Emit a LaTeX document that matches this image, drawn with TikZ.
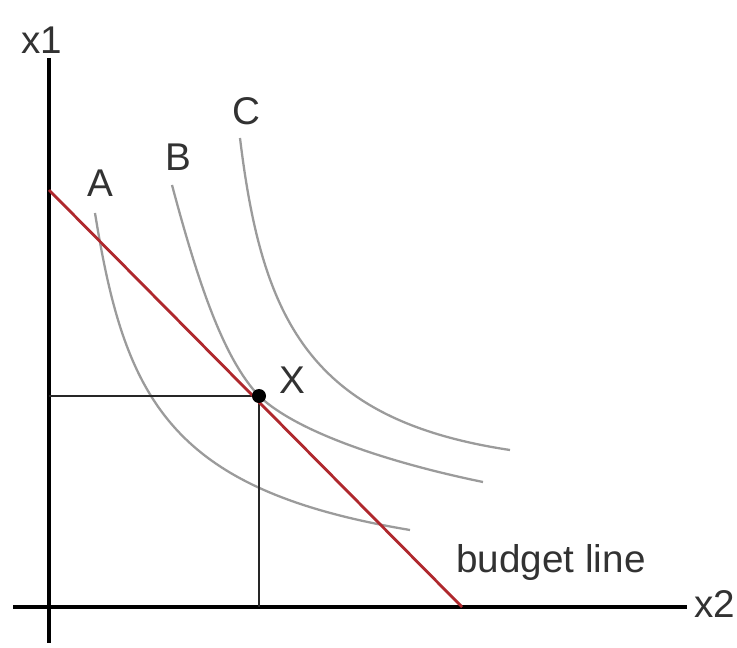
\documentclass[tikz,border=0pt]{standalone}
\usepackage{fontspec}
\setmainfont{Liberation Sans}
\definecolor{budgetred}{RGB}{175,40,45}
\definecolor{curvegray}{RGB}{155,155,155}
\definecolor{txtgray}{RGB}{50,50,50}
\begin{document}
\begin{tikzpicture}[x=0.02cm,y=-0.02cm,
  axis/.style={line width=1.8pt,black},
  guide/.style={line width=1.1pt,black!85},
  budget/.style={line width=1.6pt,budgetred},
  icurve/.style={line width=1.3pt,curvegray},
  lbl/.style={font=\fontsize{22}{26}\selectfont,text=txtgray,inner sep=0pt}]
\useasboundingbox (0,0) rectangle (737,648);
% axes
\coordinate (ytop) at (49,58);
\coordinate (ybot) at (49,643);
\coordinate (xleft) at (13,607);
\coordinate (xright) at (687,607);
\draw[axis] (ytop) -- (ybot);
\draw[axis] (xleft) -- (xright);
\node[lbl] (x1) at (42,40) {x1};
\node[lbl] (x2) at (715,604) {x2};
% guides to X
\coordinate (X) at (259,396);
\coordinate (xy) at (49,396);
\coordinate (xx) at (259,607);
% indifference curves
\draw[icurve] (95,213) .. controls (125,400) and (170,490) .. (410,530);
\draw[icurve] (172,185) .. controls (200,290) and (225,360) .. (X)
  .. controls (300,435) and (400,465) .. (483,482);
\draw[icurve] (240,138) .. controls (262,320) and (310,420) .. (510,450);
\node[lbl] (A) at (100,183) {A};
\node[lbl] (B) at (178,157) {B};
\node[lbl] (C) at (246,111) {C};
\draw[guide] (xy) -- (X) -- (xx);
% budget line
\coordinate (b1) at (49,190);
\coordinate (b2) at (462,607);
\draw[budget] (b1) -- (b2);
\fill[black] (X) circle (7);
\node[lbl] (Xl) at (292,380) {X};
\node[lbl] (bl) at (551,563) {budget line};
\end{tikzpicture}
\end{document}
